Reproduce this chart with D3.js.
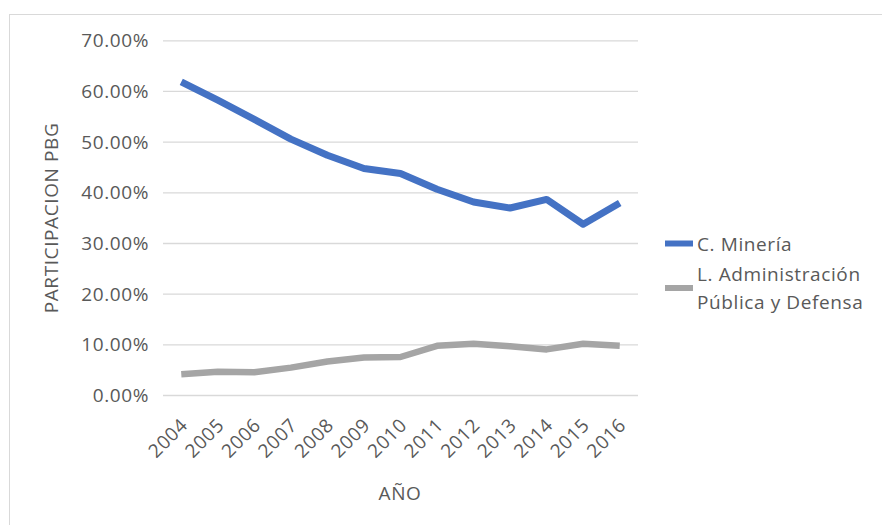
<!DOCTYPE html>
<html><head><meta charset="utf-8">
<script src="https://cdn.jsdelivr.net/npm/d3@7"></script>
<style>body{margin:0;background:#fff;} text{font-family:"Open Sans",sans-serif;fill:#595959;letter-spacing:0.6px;}</style>
</head><body>
<svg id="c" width="882" height="525"></svg>
<script>
const years = ["2004","2005","2006","2007","2008","2009","2010","2011","2012","2013","2014","2015","2016"];
const mineria = [61.9,58.3,54.5,50.6,47.4,44.8,43.8,40.7,38.2,37.0,38.7,33.8,38.0];
const adminPublica = [4.2,4.7,4.6,5.5,6.7,7.5,7.6,9.8,10.2,9.7,9.1,10.2,9.8];
const yTicks = [0,10,20,30,40,50,60,70];
const seriesNames = ["C. Minería", ["L. Administración","Pública y Defensa"]];
const colors = ["#4472C4","#A5A5A5"];
const fs = "19px";

const svg = d3.select("#c");
svg.append("rect").attr("x",9.5).attr("y",14.5).attr("width",900).attr("height",540)
  .attr("fill","none").attr("stroke","#D9D9D9").attr("stroke-width",1);

const x = d3.scalePoint().domain(years).range([163,638]).padding(0.5);
const y = d3.scaleLinear().domain([0,70]).range([395.5,40.8]);

// gridlines
svg.append("g").selectAll("line").data(yTicks).join("line")
  .attr("x1",163).attr("x2",638).attr("y1",d=>y(d)).attr("y2",d=>y(d))
  .attr("stroke","#D9D9D9").attr("stroke-width",1.3);

// y axis
const yAxis = d3.axisLeft(y).tickValues(yTicks).tickFormat(d=>d.toFixed(2)+"%").tickSize(0).tickPadding(14);
const gy = svg.append("g").attr("transform","translate(163,0)").call(yAxis);
gy.select(".domain").remove();
gy.selectAll("text").style("font-size",fs).attr("fill","#595959");

// x axis
const xAxis = d3.axisBottom(x).tickSize(0);
const gx = svg.append("g").attr("transform","translate(0,395.5)").call(xAxis);
gx.select(".domain").remove();
gx.selectAll("text").style("font-size",fs).attr("fill","#595959")
  .attr("text-anchor","end").attr("dy",null).attr("y",0)
  .attr("transform","translate(7,31) rotate(-45)");

// lines
const line = d3.line().x((d,i)=>x(years[i])).y(d=>y(d));
svg.append("path").datum(adminPublica).attr("d",line).attr("fill","none")
  .attr("stroke",colors[1]).attr("stroke-width",6.5).attr("stroke-linejoin","round");
svg.append("path").datum(mineria).attr("d",line).attr("fill","none")
  .attr("stroke",colors[0]).attr("stroke-width",7).attr("stroke-linejoin","round");

// axis titles
svg.append("text").attr("x",400).attr("y",500).attr("text-anchor","middle")
  .style("font-size",fs).text("AÑO");
svg.append("text").attr("transform","translate(58,218) rotate(-90)").attr("text-anchor","middle")
  .style("font-size",fs).text("PARTICIPACION PBG");

// legend
const lg = svg.append("g");
lg.append("line").attr("x1",665).attr("x2",693).attr("y1",243.5).attr("y2",243.5).attr("stroke",colors[0]).attr("stroke-width",6);
lg.append("text").attr("x",697).attr("y",251).style("font-size",fs).text(seriesNames[0]);
lg.append("text").attr("x",697).attr("y",281).style("font-size",fs).text(seriesNames[1][0]);
lg.append("line").attr("x1",665).attr("x2",693).attr("y1",288).attr("y2",288).attr("stroke",colors[1]).attr("stroke-width",6);
lg.append("text").attr("x",697).attr("y",309).style("font-size",fs).text(seriesNames[1][1]);
</script>
</body></html>
